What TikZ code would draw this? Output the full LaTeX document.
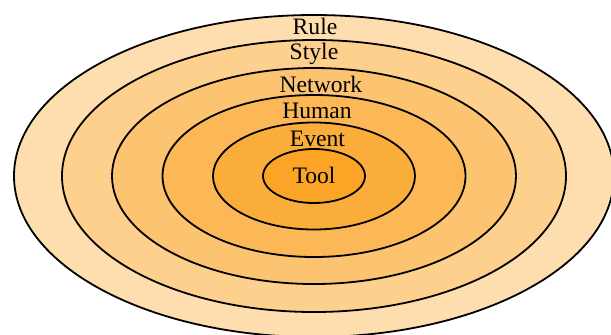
\documentclass[tikz,border=0pt]{standalone}
\usepackage{fontspec}
\setmainfont{Liberation Serif}
\usepackage{tikz}
\usetikzlibrary{shapes.geometric,%
                positioning}
\definecolor{toolorange}{RGB}{251,164,38}

\begin{document}
\begin{tikzpicture}[x=0.5pt,y=0.5pt,
		RingStyle/.style = {draw=black,line width=0.9pt,shape=ellipse,inner sep=0pt,outer sep=0pt},
		LabelStyle/.style = {font=\fontsize{11.8}{14}\selectfont,inner sep=0pt,anchor=base}]
		\useasboundingbox (-314,-158) rectangle (297,176);
		\clip (-314,-158) rectangle (297,176);
		%\draw[help lines] (-314,-158) grid (297,176);
		\node[RingStyle,fill=toolorange!37,minimum width=300pt,minimum height=161pt] (Rule) at (0,0) {};
		\node[RingStyle,fill=toolorange!52,minimum width=252pt,minimum height=136pt] (Style) at (0,0) {};
		\node[RingStyle,fill=toolorange!66,minimum width=202pt,minimum height=108pt] (Network) at (0,0) {};
		\node[RingStyle,fill=toolorange!78,minimum width=151.5pt,minimum height=81pt] (Human) at (0,0) {};
		\node[RingStyle,fill=toolorange!90,minimum width=101pt,minimum height=53.5pt] (Event) at (0,0) {};
		\node[RingStyle,fill=toolorange,minimum width=51pt,minimum height=27pt] (Tool) at (0,0) {};
		% labels
		\node[LabelStyle] (RuleLabel) at (1,142) {Rule};
		\node[LabelStyle] (StyleLabel) at (0,117) {Style};
		\node[LabelStyle] (NetworkLabel) at (7,84) {Network};
		\node[LabelStyle] (HumanLabel) at (3,58) {Human};
		\node[LabelStyle] (EventLabel) at (3.5,30) {Event};
		\node[LabelStyle] (ToolLabel) at (0,-7) {Tool};
	\end{tikzpicture}
\end{document}
